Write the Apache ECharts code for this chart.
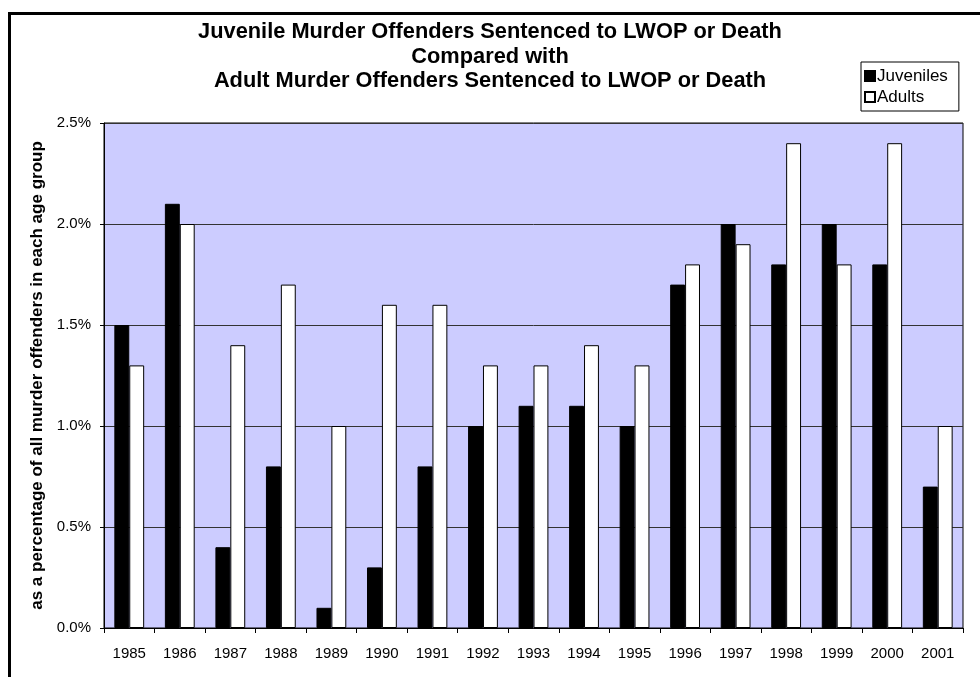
<!DOCTYPE html>
<html>
<head>
<meta charset="utf-8">
<script src="https://cdn.jsdelivr.net/npm/echarts@6/dist/echarts.min.js"></script>
<style>html,body{margin:0;padding:0;background:#fff;}#c{width:980px;height:677px;}</style>
</head>
<body>
<div id="c"></div>
<script>
const years = ['1985','1986','1987','1988','1989','1990','1991','1992','1993','1994','1995','1996','1997','1998','1999','2000','2001'];
const juveniles = [1.5, 2.1, 0.4, 0.8, 0.1, 0.3, 0.8, 1.0, 1.1, 1.1, 1.0, 1.7, 2.0, 1.8, 2.0, 1.8, 0.7];
const adults = [1.3, 2.0, 1.4, 1.7, 1.0, 1.6, 1.6, 1.3, 1.3, 1.4, 1.3, 1.8, 1.9, 2.4, 1.8, 2.4, 1.0];
const titleLines = ['Juvenile Murder Offenders Sentenced to LWOP or Death', 'Compared with', 'Adult Murder Offenders Sentenced to LWOP or Death'];
const yAxisName = 'as a percentage of all murder offenders in each age group';

const chart = echarts.init(document.getElementById('c'), null, {renderer: 'canvas'});
const font = 'Arial, "Liberation Sans", sans-serif';
chart.setOption({
  animation: false,
  backgroundColor: '#fff',
  textStyle: {fontFamily: font},
  title: {
    text: titleLines.join('\n'),
    left: 485, top: 15, textAlign: 'center',
    textStyle: {fontFamily: font, fontSize: 21.8, fontWeight: 'bold', color: '#000', lineHeight: 24.5}
  },
  legend: {
    orient: 'vertical', left: 861, top: 62,
    padding: [4, 11, 4, 3],
    itemGap: 1,
    itemWidth: 10, itemHeight: 10,
    borderColor: '#000', borderWidth: 1,
    backgroundColor: '#fff',
    icon: 'rect',
    textStyle: {fontFamily: font, fontSize: 17, color: '#000', lineHeight: 20, padding: [0, 0, 0, -3]},
    data: ['Juveniles', 'Adults']
  },
  grid: {
    left: 104, right: 17, top: 123, bottom: 49,
    show: true, backgroundColor: '#CCCCFF', borderColor: '#000', borderWidth: 1
  },
  xAxis: {
    type: 'category', data: years,
    axisLine: {lineStyle: {color: '#000', width: 1}},
    axisTick: {show: true, length: 5, lineStyle: {color: '#000'}},
    axisLabel: {color: '#000', fontSize: 15, margin: 18, fontFamily: font}
  },
  yAxis: {
    type: 'value', min: 0, max: 2.5, interval: 0.5,
    name: yAxisName, nameLocation: 'middle', nameGap: 58,
    nameTextStyle: {fontSize: 17, fontWeight: 'bold', color: '#000', fontFamily: font},
    axisLine: {show: true, lineStyle: {color: '#000', width: 1}},
    axisTick: {show: true, length: 4, lineStyle: {color: '#000'}},
    axisLabel: {color: '#000', fontSize: 15, margin: 13, fontFamily: font, formatter: v => v.toFixed(1) + '%'},
    splitLine: {show: true, lineStyle: {color: '#333', width: 1}}
  },
  series: [
    {name: 'Juveniles', type: 'bar', data: juveniles, barGap: '0%', barCategoryGap: '41%',
     itemStyle: {color: '#000', borderColor: '#000', borderWidth: 1}},
    {name: 'Adults', type: 'bar', data: adults, barGap: '0%', barCategoryGap: '41%',
     itemStyle: {color: '#fff', borderColor: '#000', borderWidth: 1}}
  ],
  graphic: [
    {type: 'rect', shape: {x: 9.5, y: 13.5, width: 1000, height: 700},
     style: {fill: 'none', stroke: '#000', lineWidth: 3}, z: 100}
  ]
});
</script>
</body>
</html>
